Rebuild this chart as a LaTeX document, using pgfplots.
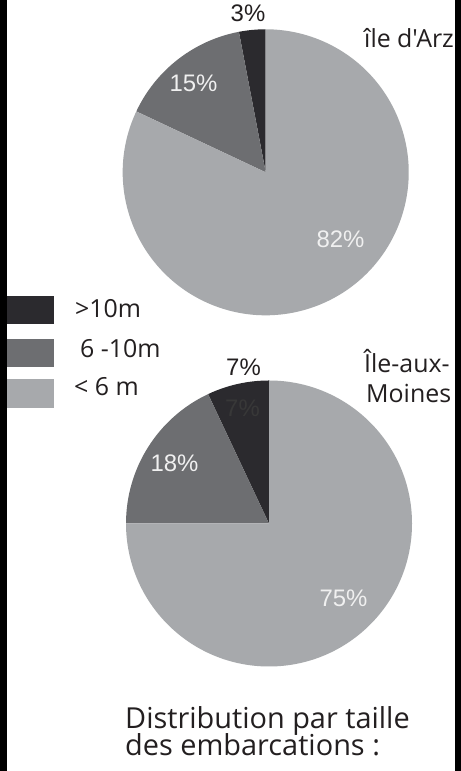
\documentclass[border=0pt]{standalone}
\usepackage{pgfplots}
\usepackage{pgfplotstable}
\pgfplotsset{compat=1.18}
\usepackage{fontspec}
\setmainfont{Open Sans}[Ligatures=TeXOff]
\newfontfamily\arial{Liberation Sans}

\definecolor{cdark}{HTML}{2B2A2E}
\definecolor{cmid}{HTML}{6D6E71}
\definecolor{clight}{HTML}{A7A9AC}
\definecolor{ctext}{HTML}{231F20}

% share of boats by size (percent)
\pgfplotstableread{
size pct
big 3
mid 15
small 82
}\arzdata
\pgfplotstableread{
size pct
big 7
mid 18
small 75
}\moidata

\newcommand\getpct[3]{\pgfplotstablegetelem{#2}{pct}\of#1\xdef#3{\pgfplotsretval}}

% one pie: three wedges starting at 12 o'clock, counter-clockwise
\newcommand\pie[2]{%
  \fill[cdark] (axis cs:0,0) -- ++(90:143bp)
    arc[start angle=90, delta angle={3.6*#1}, radius=143bp] -- cycle;
  \fill[cmid] (axis cs:0,0) -- ++({90+3.6*#1}:143bp)
    arc[start angle={90+3.6*#1}, delta angle={3.6*#2}, radius=143bp] -- cycle;
  \fill[clight] (axis cs:0,0) -- ++({90+3.6*(#1+#2)}:143bp)
    arc[start angle={90+3.6*(#1+#2)}, end angle=450, radius=143bp] -- cycle;
}

\pgfplotsset{pieaxis/.style={hide axis, scale only axis, x=143bp, y=143bp,
  xmin=-1, xmax=1, ymin=-1, ymax=1, anchor=center, clip=false}}

\begin{document}
\begin{tikzpicture}[x=1bp, y=1bp]
\fill[white] (0,0) rectangle (461,771);
\path[use as bounding box] (0,0) rectangle (461,771);

\getpct\arzdata{0}\arzA \getpct\arzdata{1}\arzB
\getpct\moidata{0}\moiA \getpct\moidata{1}\moiB

\begin{axis}[pieaxis, at={(265.7bp,598.7bp)}]
  \pie{\arzA}{\arzB}
\end{axis}
\begin{axis}[pieaxis, at={(269bp,247.5bp)}]
  \pie{\moiA}{\moiB}
\end{axis}

% slice labels
\begin{scope}[every node/.style={anchor=base, inner sep=0pt, font=\arial\fontsize{24}{28}\selectfont}]
  \node[text=ctext] at (248,749) {3\%};
  \node[text=white!94!black] at (193.5,679) {15\%};
  \node[text=white!94!black] at (340.5,523) {82\%};
  \node[text=ctext] at (243.5,395) {7\%};
  \node[text=black!78] at (242.5,354) {7\%};
  \node[text=white!94!black] at (174.5,299) {18\%};
  \node[text=white!94!black] at (343.5,164) {75\%};
\end{scope}

% island names
\begin{scope}[every node/.style={anchor=base west, inner sep=0pt, text=ctext, font=\fontsize{25}{30}\selectfont}]
  \node at (364,723) {île d'Arz};
  \node at (364,398) {Île-aux-};
  \node at (366,368) {Moines};
\end{scope}

% legend
\fill[cdark] (0,447) rectangle (54,475);
\fill[cmid] (0,404) rectangle (54,432);
\fill[clight] (0,363) rectangle (54,392);
\begin{scope}[every node/.style={anchor=base west, inner sep=0pt, text=ctext, font=\fontsize{25}{28}\selectfont}]
  \node at (75,453) {>10m};
  \node at (80,413) {6 -10m};
  \node at (74,375) {< 6 m};
\end{scope}

% title
\node[anchor=base west, inner sep=0pt, text=ctext, font=\fontsize{29}{29}\selectfont] at (125,42) {Distribution par taille};
\node[anchor=base west, inner sep=0pt, text=ctext, font=\fontsize{29}{29}\selectfont] at (125,15) {des embarcations :};

% dark side strips
\fill[black] (0,0) rectangle (7,771);
\fill[black] (455,0) rectangle (461,771);
\end{tikzpicture}
\end{document}
